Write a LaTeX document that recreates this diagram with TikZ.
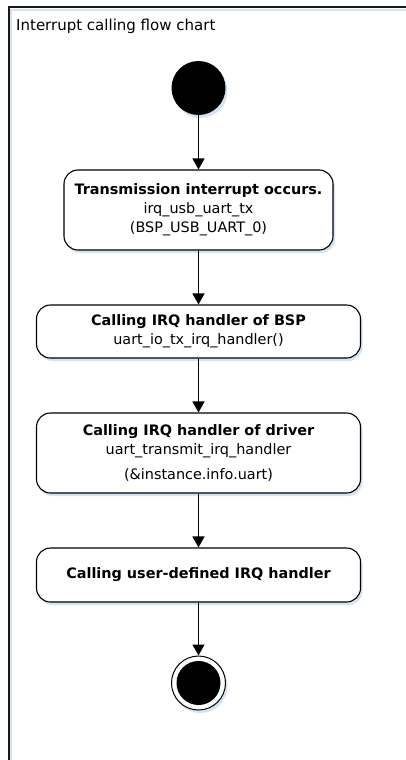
\documentclass[tikz,border=0pt]{standalone}
\usepackage{fontspec}
\setmainfont{DejaVu Sans}
\usetikzlibrary{arrows.meta,shadows}
\definecolor{shadowblue}{HTML}{D5E3F3}
\tikzset{
  actbox/.style={draw=black, line width=1.1bp, rounded corners=14bp, fill=white,
    align=center, inner sep=0pt,
    font=\fontsize{14.4bp}{19bp}\selectfont,
    drop shadow={shadow xshift=2bp, shadow yshift=-3bp, fill=shadowblue, opacity=1}},
  flow/.style={line width=1.3bp, -{Triangle[width=12bp,length=11bp]}},
  startdot/.style={circle, fill=black, minimum size=54bp, inner sep=0pt,
    drop shadow={shadow xshift=2bp, shadow yshift=-3bp, fill=shadowblue, opacity=1}},
  enddot/.style={circle, draw=black, line width=1bp, fill=white, minimum size=54bp, inner sep=0pt,
    drop shadow={shadow xshift=2bp, shadow yshift=-3bp, fill=shadowblue, opacity=1}},
}
\begin{document}
\begin{tikzpicture}[x=1bp, y=-1bp]
\useasboundingbox (0,0) rectangle (405,760);
\fill[white] (0,0) rectangle (405,760);
% frame
\draw[shadowblue, line width=2bp] (11,770) -- (11,10.5) -- (415,10.5);
\draw[black!90, line width=2bp] (8.5,770) -- (8.5,7.5) -- (415,7.5);
\node[anchor=base west, font=\fontsize{15bp}{17bp}\selectfont, inner sep=0pt] (title) at (16,31) {Interrupt calling flow chart};

\node[startdot] (start) at (198.5,88) {};
\node[actbox, minimum width=269bp, minimum height=80bp] (b1) at (198.5,210)
  {\textbf{Transmission interrupt occurs.}\\irq\_usb\_uart\_tx\\(BSP\_USB\_UART\_0)};
\node[actbox, minimum width=324bp, minimum height=53bp] (b2) at (198.5,331.5)
  {\textbf{Calling IRQ handler of BSP}\\uart\_io\_tx\_irq\_handler()};
\node[actbox, minimum width=324bp, minimum height=80bp] (b3) at (198.5,453)
  {\textbf{Calling IRQ handler of driver}\\uart\_transmit\_irq\_handler\\[6bp](\&instance.info.uart)};
\node[actbox, minimum width=324bp, minimum height=54bp] (b4) at (198.5,575)
  {\textbf{Calling user-defined IRQ handler}};
\node[enddot] (end) at (198.5,683) {};
\node[circle, fill=black, minimum size=44bp, inner sep=0pt] (endin) at (end.center) {};

\draw[flow] (start) -- (b1);
\draw[flow] (b1) -- (b2);
\draw[flow] (b2) -- (b3);
\draw[flow] (b3) -- (b4);
\draw[flow] (b4) -- (end);
\end{tikzpicture}
\end{document}
